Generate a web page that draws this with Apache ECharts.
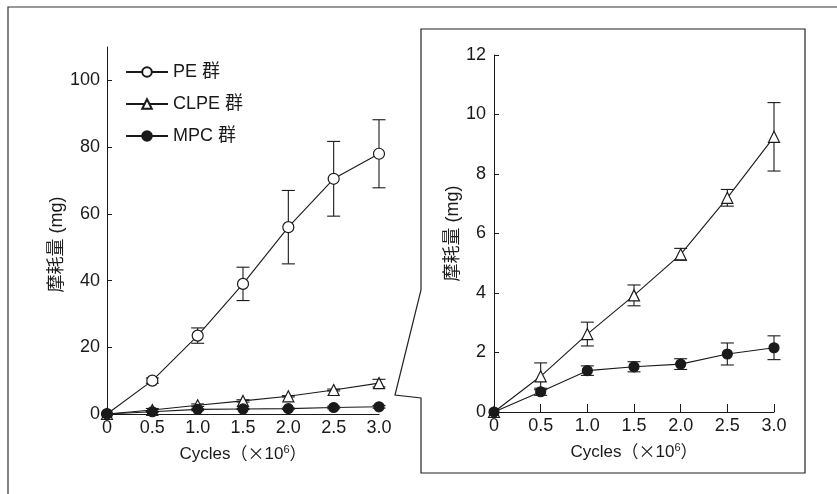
<!DOCTYPE html>
<html>
<head>
<meta charset="utf-8">
<script src="https://cdn.jsdelivr.net/npm/echarts@6/dist/echarts.min.js"></script>
<style>
html,body{margin:0;padding:0;background:#fff;}
#chart{width:837px;height:494px;}
</style>
</head>
<body>
<div id="chart"></div>
<script>
// ---- data ----
var cycles = [0, 0.5, 1.0, 1.5, 2.0, 2.5, 3.0];
var seriesNames = ['PE群', 'CLPE群', 'MPC群'];
var peMean = [0, 10, 23.5, 39, 56, 70.5, 78];
var peErr = [0, 0.8, 2.3, 5, 11, 11.2, 10.2];
var clpeMean = [0, 1.2, 2.62, 3.92, 5.3, 7.2, 9.25];
var clpeErr = [0, 0.45, 0.4, 0.35, 0.2, 0.28, 1.15];
var mpcMean = [0, 0.68, 1.39, 1.52, 1.61, 1.95, 2.16];
var mpcErr = [0, 0.12, 0.16, 0.17, 0.18, 0.37, 0.4];
var leftYTicks = [0, 20, 40, 60, 80, 100];
var xTicks = [0, 0.5, 1.0, 1.5, 2.0, 2.5, 3.0];

var FONT = '"Liberation Sans", Arial, "Noto Sans CJK JP", sans-serif';
var CJK = '"Noto Sans CJK JP", sans-serif';
var INK = '#1a1a1a';

function pts(means) { return cycles.map(function (c, i) { return [c, means[i]]; }); }
function errData(means, errs) { return cycles.map(function (c, i) { return [c, means[i] - errs[i], means[i] + errs[i]]; }); }

function errSeries(name, means, errs, gi) {
  return {
    type: 'custom', name: name, xAxisIndex: gi, yAxisIndex: gi, z: 1, silent: true,
    data: errData(means, errs),
    renderItem: function (params, api) {
      var x = api.value(0), lo = api.value(1), hi = api.value(2);
      if (hi - lo <= 0) return null;
      var p1 = api.coord([x, hi]), p2 = api.coord([x, lo]);
      var w = 6.5;
      var st = { stroke: INK, lineWidth: 1.1 };
      return { type: 'group', children: [
        { type: 'line', shape: { x1: p1[0], y1: p1[1], x2: p2[0], y2: p2[1] }, style: st },
        { type: 'line', shape: { x1: p1[0] - w, y1: p1[1], x2: p1[0] + w, y2: p1[1] }, style: st },
        { type: 'line', shape: { x1: p2[0] - w, y1: p2[1], x2: p2[0] + w, y2: p2[1] }, style: st }
      ]};
    }
  };
}

function lineSeries(name, means, gi, symbol, size, fill) {
  return {
    type: 'line', name: name, xAxisIndex: gi, yAxisIndex: gi, z: 3,
    data: pts(means), symbol: symbol, symbolSize: size, showAllSymbol: true,
    lineStyle: { color: INK, width: 1.1 },
    itemStyle: { color: fill, borderColor: INK, borderWidth: 1.2 },
    emphasis: { disabled: true }, animation: false
  };
}

var labelStyle = { fontFamily: FONT, fontSize: 18, color: INK };
var xName = 'Cycles{c|（×}10{sup|6}{c|）}';
var xNameStyle = {
  fontFamily: FONT, fontSize: 17, color: INK,
  rich: {
    c: { fontFamily: CJK, fontSize: 17, color: INK },
    sup: { fontFamily: FONT, fontSize: 11, color: INK, padding: [0, 0, 9, 0] }
  }
};
var yName = '摩耗量 (mg)';
function xFmt(v) { return v === 0 ? '0' : v.toFixed(1); }

var option = {
  backgroundColor: '#fff',
  animation: false,
  legend: {
    data: seriesNames, orient: 'vertical', left: 120, top: 58,
    itemWidth: 42, itemHeight: 12, itemGap: 14,
    formatter: function (n) { return n.replace('群', ' 群'); },
    textStyle: { fontFamily: FONT, fontSize: 18, color: INK },
    selectedMode: false
  },
  grid: [
    { left: 107, top: 47, width: 272, height: 367 },
    { left: 494, top: 55, width: 280, height: 357 }
  ],
  xAxis: [
    { type: 'value', gridIndex: 0, min: 0, max: 3, interval: 0.5,
      axisLine: { lineStyle: { color: INK, width: 1 } }, axisTick: { show: false },
      splitLine: { show: false }, axisLabel: Object.assign({ margin: 5, formatter: xFmt }, labelStyle),
      name: xName, nameLocation: 'middle', nameGap: 30, nameTextStyle: xNameStyle },
    { type: 'value', gridIndex: 1, min: 0, max: 3, interval: 0.5,
      axisLine: { lineStyle: { color: INK, width: 1 } },
      axisTick: { inside: true, length: 8, lineStyle: { color: INK } },
      splitLine: { show: false }, axisLabel: Object.assign({ margin: 5, formatter: xFmt }, labelStyle),
      name: xName, nameLocation: 'middle', nameGap: 30, nameTextStyle: xNameStyle }
  ],
  yAxis: [
    { type: 'value', gridIndex: 0, min: 0, max: 110,
      axisLine: { show: true, lineStyle: { color: INK, width: 1 } },
      axisTick: { show: true, inside: true, length: 5, customValues: leftYTicks, lineStyle: { color: INK } },
      splitLine: { show: false },
      axisLabel: Object.assign({ margin: 7, customValues: leftYTicks }, labelStyle),
      name: yName, nameLocation: 'middle', nameGap: 35, nameRotate: 90,
      nameTextStyle: { fontFamily: FONT, fontSize: 18, color: INK, padding: [0, 28, 0, 0] } },
    { type: 'value', gridIndex: 1, min: 0, max: 12, interval: 2,
      axisLine: { show: true, lineStyle: { color: INK, width: 1 } },
      axisTick: { show: true, inside: true, length: 5, lineStyle: { color: INK } },
      splitLine: { show: false },
      axisLabel: Object.assign({ margin: 8 }, labelStyle),
      name: yName, nameLocation: 'middle', nameGap: 27, nameRotate: 90,
      nameTextStyle: { fontFamily: FONT, fontSize: 18, color: INK } }
  ],
  graphic: [
    { type: 'rect', shape: { x: 8, y: 7, width: 860, height: 520 }, style: { fill: null, stroke: '#333', lineWidth: 1.2 }, z: -1, silent: true },
    { type: 'polygon', shape: { points: [[421, 29], [421, 290], [395, 395], [421, 398], [421, 473], [805, 473], [805, 29]] },
      style: { fill: null, stroke: '#222', lineWidth: 1.2 }, z: -1, silent: true }
  ],
  series: [
    errSeries('peErrL', peMean, peErr, 0),
    errSeries('clpeErrL', clpeMean, clpeErr, 0),
    errSeries('mpcErrL', mpcMean, mpcErr, 0),
    lineSeries(seriesNames[0], peMean, 0, 'circle', 11, '#fff'),
    lineSeries(seriesNames[1], clpeMean, 0, 'triangle', 11, '#fff'),
    lineSeries(seriesNames[2], mpcMean, 0, 'circle', 10, INK),
    errSeries('clpeErrR', clpeMean, clpeErr, 1),
    errSeries('mpcErrR', mpcMean, mpcErr, 1),
    lineSeries(seriesNames[1], clpeMean, 1, 'triangle', 11, '#fff'),
    lineSeries(seriesNames[2], mpcMean, 1, 'circle', 10, INK)
  ]
};

var chart = echarts.init(document.getElementById('chart'), null, { renderer: 'canvas' });
chart.setOption(option);
</script>
</body>
</html>
